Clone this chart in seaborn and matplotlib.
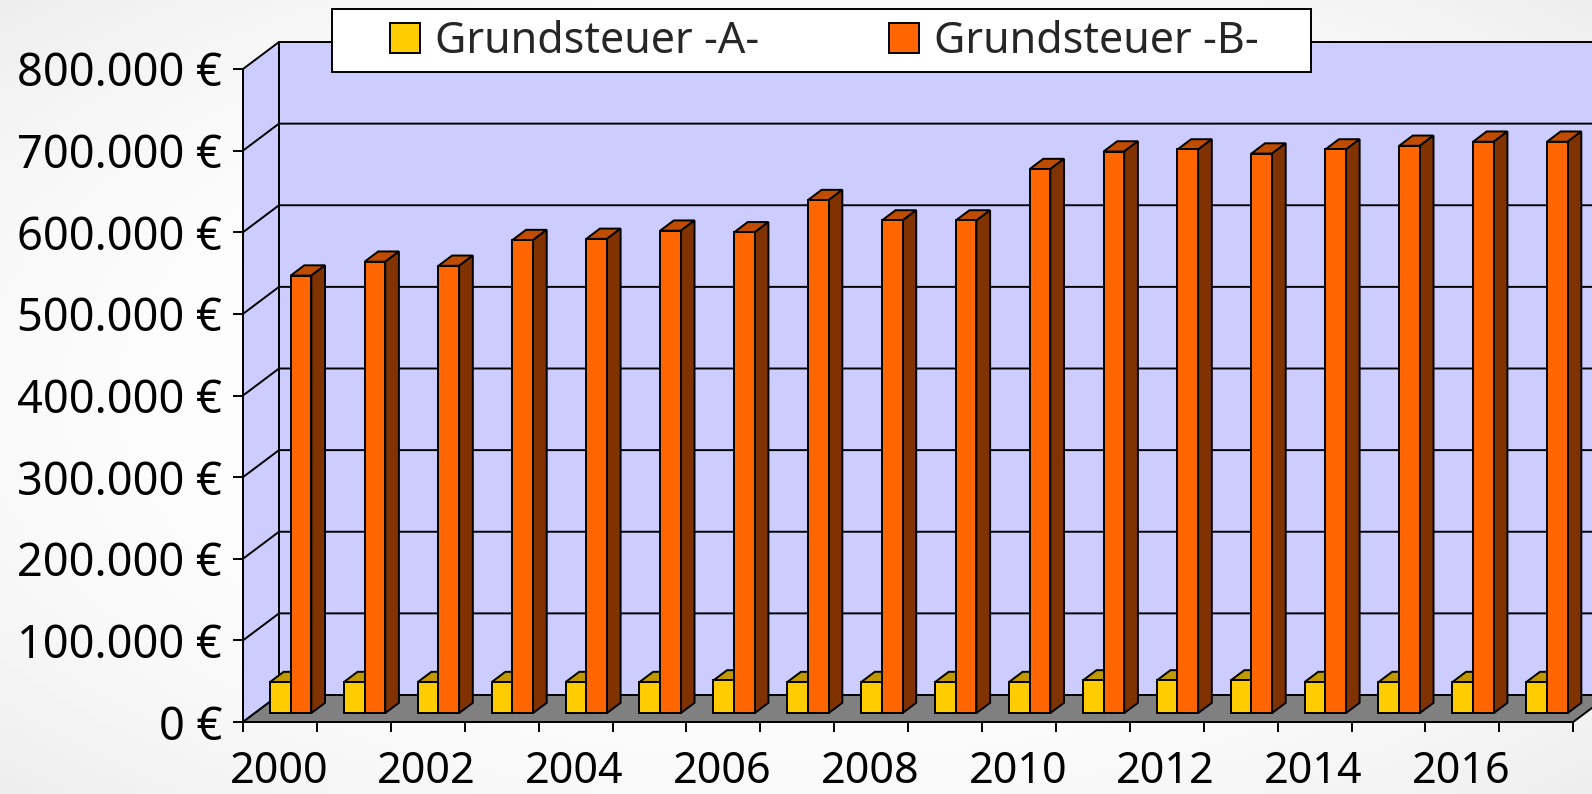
import numpy as np
import pandas as pd
import matplotlib
matplotlib.use("Agg")
import matplotlib.pyplot as plt
import seaborn as sns
from matplotlib.patches import Polygon, Rectangle, Patch
from matplotlib.ticker import FuncFormatter, FixedLocator, MultipleLocator

# ==================== Data ====================
JAHRE = ["2000", "2001", "2002", "2003", "2004", "2005", "2006", "2007", "2008",
         "2009", "2010", "2011", "2012", "2013", "2014", "2015", "2016", "2017"]
GRUNDSTEUER_A = [38000, 38000, 38000, 38000, 38000, 38000, 40000, 38000, 38000,
                 38000, 38000, 40000, 40000, 40000, 38000, 38000, 38000, 38000]
GRUNDSTEUER_B = [536000, 553000, 548000, 579500, 581000, 591000, 589000, 628500, 603500,
                 603500, 666500, 688000, 690500, 685500, 690500, 695000, 700000, 700000]
SERIEN = ["Grundsteuer -A-", "Grundsteuer -B-"]

# ==================== Style ====================
FARBEN = {SERIEN[0]: "#FFCC00", SERIEN[1]: "#FF6600"}
FARBEN_OBEN = {SERIEN[0]: "#C09900", SERIEN[1]: "#C04C00"}
FARBEN_SEITE = {SERIEN[0]: "#806600", SERIEN[1]: "#803300"}
WAND = "#CCCCFF"
BODEN = "#808080"
LW = 1.4

sns.set_theme(style="white")
plt.rcParams["font.family"] = ["Noto Sans", "DejaVu Sans"]

W, H = 1592, 794
PX_KAT = 73.9          # pixels per category
PX_100K = 81.625       # pixels per 100.000 €
AX_L, AX_B = 243, 72   # front axis origin in pixels (from left / bottom)

fig = plt.figure(figsize=(W / 100, H / 100), dpi=100)

# soft grey background like the slide
bg = fig.add_axes([0, 0, 1, 1], zorder=-1)
gx, gy = np.meshgrid(np.linspace(-1, 1, 200), np.linspace(-1, 1, 100))
grau = 1 - 0.07 * ((gx ** 2 + gy ** 2) / 2) ** 1.5
bg.imshow(grau, cmap="gray", vmin=0, vmax=1, extent=(0, 1, 0, 1), aspect="auto")
bg.axis("off")

ax = fig.add_axes([AX_L / W, AX_B / H, (W - AX_L) / W, 8 * PX_100K / H])
ax.set_facecolor("none")

df = pd.DataFrame({
    "Jahr": JAHRE * 2,
    "Art": [SERIEN[0]] * len(JAHRE) + [SERIEN[1]] * len(JAHRE),
    "Betrag": GRUNDSTEUER_A + GRUNDSTEUER_B,
})
sns.barplot(data=df, x="Jahr", y="Betrag", hue="Art", order=JAHRE, hue_order=SERIEN,
            palette=FARBEN, width=0.56, saturation=1, errorbar=None,
            edgecolor="black", linewidth=LW, legend=False, ax=ax)

# ---- oblique 3D frame ----
n = len(JAHRE)
x0 = -0.484
DX = 36 / PX_KAT
DY = 27 / PX_100K * 100000
YMAX = 800000
ax.set_xlim(x0, x0 + (W - AX_L) / PX_KAT)
ax.set_ylim(0, YMAX)

kw = dict(closed=True, edgecolor="black", linewidth=LW, clip_on=False)
ax.add_patch(Polygon([(x0, 0), (x0, YMAX), (x0 + DX, YMAX + DY), (x0 + DX, DY)],
                     facecolor=WAND, zorder=0.5, **kw))
ax.add_patch(Polygon([(x0 + DX, DY), (x0 + n + DX, DY), (x0 + n + DX, YMAX + DY),
                      (x0 + DX, YMAX + DY)], facecolor=WAND, zorder=0.5, **kw))
ax.add_patch(Polygon([(x0, 0), (x0 + n, 0), (x0 + n + DX, DY), (x0 + DX, DY)],
                     facecolor=BODEN, zorder=0.6, **kw))
for v in range(100000, YMAX, 100000):
    ax.plot([x0, x0 + DX, x0 + n + DX], [v, v + DY, v + DY], color="black",
            lw=LW, zorder=0.8, clip_on=False)

# ---- turn the flat bars into boxes ----
d0, d1 = 0.33, 0.71
bdx, bdy = (d1 - d0) * DX, (d1 - d0) * DY
for k, cont in enumerate(ax.containers):
    art = SERIEN[k]
    for p in cont:
        xs = p.get_x() + d0 * DX
        ys = d0 * DY
        w, h = p.get_width(), p.get_height()
        p.set_x(xs)
        p.set_y(ys)
        p.set_zorder(3 + 2 * k)
        ax.add_patch(Polygon([(xs, ys + h), (xs + w, ys + h), (xs + w + bdx, ys + h + bdy),
                              (xs + bdx, ys + h + bdy)], facecolor=FARBEN_OBEN[art],
                             zorder=2 + 2 * k, **kw))
        ax.add_patch(Polygon([(xs + w, ys), (xs + w, ys + h), (xs + w + bdx, ys + h + bdy),
                              (xs + w + bdx, ys + bdy)], facecolor=FARBEN_SEITE[art],
                             zorder=2 + 2 * k, **kw))

# ---- axes ----
for s in ["top", "right", "bottom"]:
    ax.spines[s].set_visible(False)
ax.spines["left"].set_color("black")
ax.spines["left"].set_linewidth(LW)

ax.yaxis.set_major_locator(MultipleLocator(100000))
ax.yaxis.set_major_formatter(FuncFormatter(lambda v, p: f"{v:,.0f}".replace(",", ".") + " €"))
ax.tick_params(axis="y", left=True, direction="out", length=7, width=LW,
               color="black", pad=8, labelsize=32.5, labelcolor="black")

ax.xaxis.set_major_locator(FixedLocator(list(range(0, n, 2))))
ax.set_xticklabels(JAHRE[::2])
ax.xaxis.set_minor_locator(FixedLocator([x0 + i for i in range(n + 1)]))
ax.tick_params(axis="x", which="major", bottom=True, length=0, pad=20,
               labelsize=31, labelcolor="black")
ax.tick_params(axis="x", which="minor", bottom=True, direction="out", length=7,
               width=LW, color="black")
ax.set_xlabel("")
ax.set_ylabel("")

# ---- legend ----
fig.add_artist(Rectangle((332 / W, 1 - 72 / H), 979 / W, 63 / H, transform=fig.transFigure,
                         facecolor="white", edgecolor="black", linewidth=LW, zorder=4))
handles = [Patch(facecolor=FARBEN[s], edgecolor="black", linewidth=LW, label=s) for s in SERIEN]
fig.legend(handles=handles, loc="center", bbox_to_anchor=(824.5 / W, 1 - 42 / H), ncol=2,
           frameon=False, fontsize=31, handlelength=0.7, handleheight=0.7,
           handletextpad=0.35, columnspacing=3.0, borderpad=0)

fig.savefig("out.png", dpi=100)
